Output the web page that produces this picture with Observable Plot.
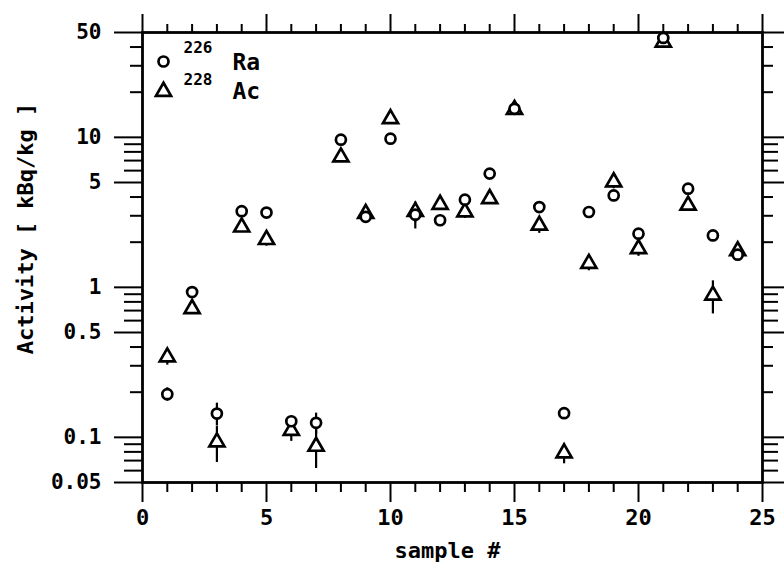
<!DOCTYPE html>
<html>
<head>
<meta charset="utf-8">
<script src="https://cdn.jsdelivr.net/npm/d3@7"></script>
<script src="https://cdn.jsdelivr.net/npm/@observablehq/plot@0.6"></script>
<style>
  html, body { margin: 0; padding: 0; background: #fff; }
  #chart svg { display: block; }
</style>
</head>
<body>
<div id="chart"></div>
<script>
// ---- data ----
const samples = [1, 2, 3, 4, 5, 6, 7, 8, 9, 10, 11, 12, 13, 14, 15, 16, 17, 18, 19, 20, 21, 22, 23, 24];
const ra226    = [0.194, 0.93, 0.144, 3.22, 3.15, 0.128, 0.125, 9.65, 2.95, 9.8, 3.05, 2.8, 3.84, 5.73, 15.5, 3.43, 0.145, 3.18, 4.1, 2.28, 46, 4.55, 2.22, 1.65];
const ra226Err = [0.02, 0.05, 0.025, 0.2, 0.2, 0.01, 0.02, 0.4, 0.2, 0.4, 0.6, 0.2, 0.2, 0.3, 0.8, 0.2, 0.01, 0.2, 0.3, 0.15, 2, 0.3, 0.15, 0.1];
const ac228    = [0.343, 0.72, 0.093, 2.52, 2.08, 0.111, 0.087, 7.39, 3.1, 13.3, 3.2, 3.57, 3.18, 3.9, 15.3, 2.59, 0.0786, 1.44, 5.04, 1.81, 43, 3.52, 0.885, 1.75];
const ac228Err = [0.04, 0.06, 0.025, 0.2, 0.2, 0.017, 0.025, 0.5, 0.3, 1, 0.5, 0.3, 0.3, 0.3, 1, 0.3, 0.012, 0.15, 0.5, 0.2, 3, 0.3, 0.22, 0.2];

// ---- axis ticks and labels ----
const xMajorTicks = [0, 5, 10, 15, 20, 25];
const xMinorTicks = [1, 2, 3, 4, 6, 7, 8, 9, 11, 12, 13, 14, 16, 17, 18, 19, 21, 22, 23, 24];
const yMajorTicks = [0.05, 0.1, 0.5, 1, 5, 10, 50];
const yTickLabels = ["0.05", "0.1", "0.5", "1", "5", "10", "50"];
const yMinorLong  = [0.06, 0.07, 0.08, 0.09, 0.6, 0.7, 0.8, 0.9, 6, 7, 8, 9];
const yMinorShort = [0.2, 0.3, 0.4, 2, 3, 4, 20, 30, 40];
const xTitle = "sample #";
const yTitle = "Activity [ kBq/kg ]";
const legendMass = ["226", "228"];
const legendName = ["Ra", "Ac"];

const rows = samples.map((s, i) => ({
  sample: s,
  ra: ra226[i], raLo: ra226[i] - ra226Err[i], raHi: ra226[i] + ra226Err[i],
  ac: ac228[i], acLo: ac228[i] - ac228Err[i], acHi: ac228[i] + ac228Err[i]
}));
const yLabelRows = yMajorTicks.map((v, i) => ({v, label: yTickLabels[i]}));

const FONT = "'DejaVu Sans Mono', 'Liberation Mono', monospace";
const one = [0];
const ink = {stroke: "black", strokeWidth: 2.7, fill: "white"};

const chart = Plot.plot({
  width: 784,
  height: 571,
  marginLeft: 142,
  marginRight: 22,
  marginTop: 32,
  marginBottom: 89,
  style: {fontFamily: FONT, fontWeight: "bold", fontSize: "20px", color: "black", background: "white"},
  x: {domain: [0, 25]},
  y: {type: "log", domain: [0.05, 50]},
  marks: [
    // bottom axis
    Plot.axisX({anchor: "bottom", ticks: xMajorTicks, tickSize: 20, tickPadding: 7, strokeWidth: 2, label: null, fontSize: 22, tickFormat: d => String(d)}),
    Plot.axisX({anchor: "bottom", ticks: xMinorTicks, tickSize: 10, strokeWidth: 2, text: null, label: null}),
    // top axis
    Plot.axisX({anchor: "top", ticks: xMajorTicks, tickSize: 19, strokeWidth: 2, text: null, label: null}),
    Plot.axisX({anchor: "top", ticks: xMinorTicks, tickSize: 9, strokeWidth: 2, text: null, label: null}),
    // left axis (ticks; labels drawn as text)
    Plot.axisY({anchor: "left", ticks: yMajorTicks, tickSize: 28, strokeWidth: 2, text: null, label: null}),
    Plot.axisY({anchor: "left", ticks: yMinorLong, tickSize: 18, strokeWidth: 2, text: null, label: null}),
    Plot.axisY({anchor: "left", ticks: yMinorShort, tickSize: 12, strokeWidth: 2, text: null, label: null}),
    Plot.text(yLabelRows, {y: "v", text: "label", frameAnchor: "left", dx: -41, textAnchor: "end", lineAnchor: "middle", fontSize: 21, fontWeight: "bold"}),
    // right axis
    Plot.axisY({anchor: "right", ticks: yMajorTicks, tickSize: 22, strokeWidth: 2, text: null, label: null}),
    Plot.axisY({anchor: "right", ticks: yMinorLong, tickSize: 15, strokeWidth: 2, text: null, label: null}),
    Plot.axisY({anchor: "right", ticks: yMinorShort, tickSize: 10, strokeWidth: 2, text: null, label: null}),
    Plot.frame({stroke: "black", strokeWidth: 2.8}),
    // axis titles
    Plot.text(one, {frameAnchor: "left", text: () => yTitle, rotate: -90, textAnchor: "middle", lineAnchor: "middle", dx: -117, dy: -29, fontSize: 22, fontWeight: "bold"}),
    Plot.text(one, {frameAnchor: "bottom", text: () => xTitle, textAnchor: "middle", lineAnchor: "middle", dx: -5, dy: 68, fontSize: 22, fontWeight: "bold"}),
    // error bars
    Plot.ruleX(rows, {x: "sample", y1: "raLo", y2: "raHi", stroke: "black", strokeWidth: 2.2}),
    Plot.ruleX(rows, {x: "sample", y1: "acLo", y2: "acHi", stroke: "black", strokeWidth: 2.2}),
    // data markers
    Plot.dot(rows, {x: "sample", y: "ac", symbol: "triangle", r: 5.6, ...ink}),
    Plot.dot(rows, {x: "sample", y: "ra", symbol: "circle", r: 5, ...ink}),
    // legend (inside the frame, top-left)
    Plot.dot(one, {frameAnchor: "top-left", dx: 21, dy: 29, symbol: "circle", r: 5, ...ink}),
    Plot.dot(one, {frameAnchor: "top-left", dx: 21, dy: 59, symbol: "triangle", r: 5.6, ...ink}),
    Plot.text([legendMass[0]], {frameAnchor: "top-left", text: d => d, dx: 41, dy: 15, textAnchor: "start", lineAnchor: "middle", fontSize: 16, fontWeight: "bold"}),
    Plot.text([legendName[0]], {frameAnchor: "top-left", text: d => d, dx: 90, dy: 30, textAnchor: "start", lineAnchor: "middle", fontSize: 23, fontWeight: "bold"}),
    Plot.text([legendMass[1]], {frameAnchor: "top-left", text: d => d, dx: 41, dy: 47, textAnchor: "start", lineAnchor: "middle", fontSize: 16, fontWeight: "bold"}),
    Plot.text([legendName[1]], {frameAnchor: "top-left", text: d => d, dx: 90, dy: 59, textAnchor: "start", lineAnchor: "middle", fontSize: 23, fontWeight: "bold"})
  ]
});

document.getElementById("chart").appendChild(chart);
</script>
</body>
</html>
